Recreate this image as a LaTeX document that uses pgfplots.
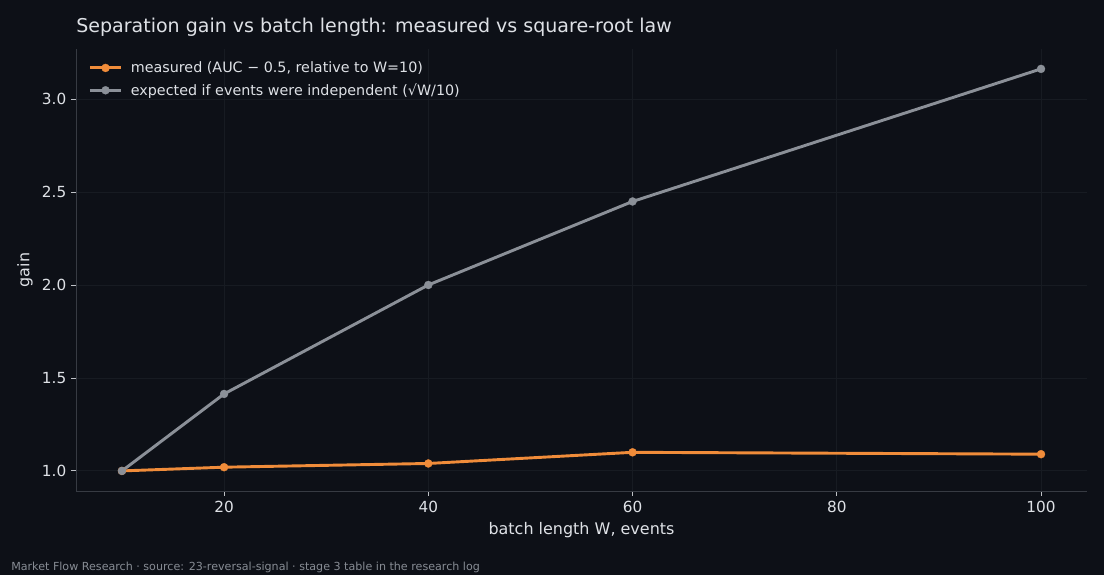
\documentclass[border=0pt]{standalone}
\usepackage{pgfplots}
\pgfplotsset{compat=1.18}
\usepackage{fontspec}
\setmainfont{DejaVu Sans}

\definecolor{bg}{RGB}{13,16,23}
\definecolor{measured}{RGB}{240,140,58}
\definecolor{expected}{RGB}{139,144,152}
\definecolor{spine}{RGB}{55,59,67}
\definecolor{tickc}{RGB}{190,193,198}
\definecolor{gridc}{RGB}{23,27,34}
\definecolor{txt}{RGB}{222,225,230}
\definecolor{foot}{RGB}{135,140,148}

\begin{document}
\begin{tikzpicture}
% canvas, 1px = 0.72pt
\fill[bg] (0,0) rectangle (794.88pt,414pt);
\node[anchor=base west, text=txt, font=\fontsize{13.7}{16}\selectfont, inner sep=0pt]
  at (54.72pt,390.3pt) {Separation gain vs batch length: measured vs square-root law};
\node[anchor=base west, text=foot, font=\fontsize{8}{9}\selectfont, inner sep=0pt]
  at (7.92pt,3.4pt) {Market Flow Research · source: 23-reversal-signal · stage 3 table in the research log};

\begin{axis}[
    at={(54.72pt,60.48pt)}, anchor=south west,
    scale only axis,
    width=727.92pt, height=318.24pt,
    xmin=5.5, xmax=104.5,
    ymin=0.892, ymax=3.269,
    xtick={20,40,60,80,100},
    ytick={1.0,1.5,2.0,2.5,3.0},
    yticklabel style={/pgf/number format/.cd,fixed,fixed zerofill,precision=1},
    /pgf/number format/assume math mode=true,
    ticklabel style={text=txt, font=\fontsize{11}{13}\selectfont},
    axis line style={spine, line width=0.6pt},
    axis x line*=bottom, axis y line*=left,
    tick align=outside, major tick length=3.5pt,
    tick style={tickc, line width=0.6pt},
    grid=major,
    major grid style={gridc, line width=0.6pt},
    xlabel={batch length W, events},
    ylabel={gain},
    label style={text=txt, font=\fontsize{11.5}{13}\selectfont},
    xlabel style={at={(axis description cs:0.5,-0.088)}, anchor=center},
    ylabel style={at={(axis description cs:-0.0504,0.5)}, anchor=center},
    legend style={
        at={(axis description cs:0.008,0.985)}, anchor=north west,
        draw=none, fill=none, text=txt,
        font=\fontsize{10.3}{12}\selectfont,
        row sep=2.5pt,
        /tikz/every odd column/.append style={column sep=4pt},
        /tikz/every even column/.append style={column sep=0pt}
    },
    legend cell align=left,
    legend image code/.code={
        \draw[mark repeat=2,mark phase=2,#1]
        plot coordinates {(0pt,0pt) (11.2pt,0pt) (22.4pt,0pt)};
    },
]

\addplot[color=measured, line width=2.1pt, mark=*, mark size=2.9pt,
         mark options={fill=measured, draw=measured, line width=0.2pt}]
  coordinates {(10,1.00)(20,1.02)(40,1.04)(60,1.10)(100,1.09)};
\addlegendentry{measured (AUC − 0.5, relative to W=10)}

\addplot[color=expected, line width=2.1pt, mark=*, mark size=2.9pt,
         mark options={fill=expected, draw=expected, line width=0.2pt}]
  coordinates {(10,1.000)(20,1.414)(40,2.000)(60,2.449)(100,3.162)};
\addlegendentry{expected if events were independent (√W/10)}

\end{axis}
\end{tikzpicture}
\end{document}
